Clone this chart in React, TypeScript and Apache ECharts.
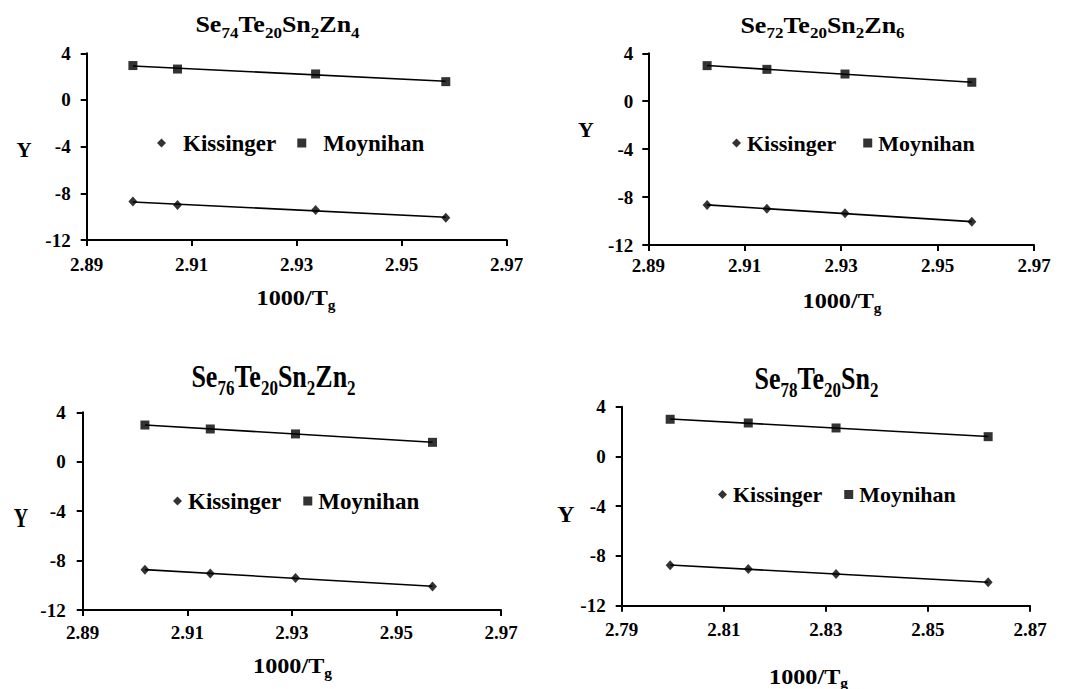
import { useEffect, useRef } from "react";
import * as echarts from "echarts";

const FONT = "Liberation Serif";

// 1000/Tg positions and Y values for each glass composition
const tgZn4 = [2.8988, 2.9073, 2.9336, 2.9584];
const kissingerZn4 = [-8.71, -9.0, -9.43, -10.09];
const moynihanZn4 = [2.95, 2.65, 2.23, 1.57];

const tgZn6 = [2.9022, 2.9146, 2.9308, 2.9571];
const kissingerZn6 = [-8.66, -8.97, -9.36, -10.06];
const moynihanZn6 = [2.97, 2.66, 2.27, 1.58];

const tgZn2 = [2.9019, 2.9144, 2.9307, 2.9569];
const kissingerZn2 = [-8.74, -9.04, -9.42, -10.09];
const moynihanZn2 = [2.97, 2.65, 2.25, 1.57];

const tgZn0 = [2.7995, 2.8148, 2.832, 2.8618];
const kissingerZn0 = [-8.75, -9.05, -9.45, -10.12];
const moynihanZn0 = [2.99, 2.69, 2.29, 1.59];

// axis ranges
const xStartZn = 2.89;
const xStartSn = 2.79;
const xSpan = 0.08;
const xStep = 0.02;
const yTicks = [-12, -8, -4, 0, 4];
const seriesNames = ["Kissinger", "Moynihan"];

// composition titles as [element, subscript] pairs
const titleZn4 = [["Se", "74"], ["Te", "20"], ["Sn", "2"], ["Zn", "4"]];
const titleZn6 = [["Se", "72"], ["Te", "20"], ["Sn", "2"], ["Zn", "6"]];
const titleZn2 = [["Se", "76"], ["Te", "20"], ["Sn", "2"], ["Zn", "2"]];
const titleZn0 = [["Se", "78"], ["Te", "20"], ["Sn", "2"]];

type Panel = {
  title: string[][];
  tg: number[];
  k: number[];
  m: number[];
  xStart: number;
  grid: { left: number; top: number; width: number; height: number };
  xMargin: number;
  yMargin: number;
  titlePos: { x: number; y: number; sy: number };
  yName: { x: number; y: number; size: number; sy: number };
  xName: { x: number; y: number };
  legend: { left: number; top: number; pad: number; gap: number; size: number };
};

const panels: Panel[] = [
  {
    title: titleZn4, tg: tgZn4, k: kissingerZn4, m: moynihanZn4, xStart: xStartZn,
    grid: { left: 86.7, top: 53.3, width: 420, height: 186.7 },
    xMargin: 15, yMargin: 16,
    titlePos: { x: 277.5, y: 12.7, sy: 0.87 },
    yName: { x: 24, y: 150, size: 21, sy: 1 },
    xName: { x: 296, y: 286.6 },
    legend: { left: 157, top: 131.5, pad: 12, gap: 21, size: 23 },
  },
  {
    title: titleZn6, tg: tgZn6, k: kissingerZn6, m: moynihanZn6, xStart: xStartZn,
    grid: { left: 648.3, top: 53.3, width: 385.7, height: 191.7 },
    xMargin: 11, yMargin: 15,
    titlePos: { x: 822.5, y: 13.3, sy: 0.87 },
    yName: { x: 586, y: 129.5, size: 22, sy: 1 },
    xName: { x: 842, y: 289.6 },
    legend: { left: 732, top: 132, pad: 1, gap: 27, size: 22 },
  },
  {
    title: titleZn2, tg: tgZn2, k: kissingerZn2, m: moynihanZn2, xStart: xStartZn,
    grid: { left: 82.7, top: 412.3, width: 418.3, height: 197.7 },
    xMargin: 13, yMargin: 17,
    titlePos: { x: 273.5, y: 360.5, sy: 1.2 },
    yName: { x: 21, y: 517.5, size: 20, sy: 1.35 },
    xName: { x: 292.5, y: 654.6 },
    legend: { left: 173, top: 489.5, pad: 1, gap: 22, size: 23 },
  },
  {
    title: titleZn0, tg: tgZn0, k: kissingerZn0, m: moynihanZn0, xStart: xStartSn,
    grid: { left: 621.7, top: 406.7, width: 408.3, height: 199 },
    xMargin: 14, yMargin: 16,
    titlePos: { x: 816.5, y: 362.1, sy: 1.2 },
    yName: { x: 566, y: 514, size: 24, sy: 1 },
    xName: { x: 808.5, y: 664.9 },
    legend: { left: 718, top: 483.5, pad: 1, gap: 22, size: 22 },
  },
];

// least-squares straight line through a set of points
function linearFit(xs: number[], ys: number[]) {
  const n = xs.length;
  const mx = xs.reduce((a, b) => a + b, 0) / n;
  const my = ys.reduce((a, b) => a + b, 0) / n;
  let sxy = 0;
  let sxx = 0;
  for (let i = 0; i < n; i++) {
    sxy += (xs[i] - mx) * (ys[i] - my);
    sxx += (xs[i] - mx) * (xs[i] - mx);
  }
  const slope = sxy / sxx;
  return (x: number) => my + slope * (x - mx);
}

const serifBold = (fontSize: number) => ({
  fontFamily: FONT,
  fontWeight: "bold",
  fontSize,
  color: "#000",
  fill: "#000",
});

function buildOption() {
  const grid: any[] = [];
  const xAxis: any[] = [];
  const yAxis: any[] = [];
  const legend: any[] = [];
  const series: any[] = [];
  const graphic: any[] = [];

  const axisLine = { show: true, onZero: false, lineStyle: { color: "#000", width: 2 } };
  const axisTick = { show: true, inside: false, length: 6, lineStyle: { color: "#000", width: 2 } };

  panels.forEach((p, i) => {
    grid.push({ ...p.grid, containLabel: false });
    // x values are placed in hundredths above the axis start so ticks line up with it
    const toAxis = (x: number) => (x - p.xStart) * 100;
    xAxis.push({
      type: "value",
      gridIndex: i,
      min: 0,
      max: xSpan * 100,
      interval: xStep * 100,
      axisLine,
      axisTick,
      splitLine: { show: false },
      axisLabel: {
        ...serifBold(19),
        margin: p.xMargin,
        formatter: (v: number) => (p.xStart + v / 100).toFixed(2),
      },
    });
    yAxis.push({
      type: "value",
      gridIndex: i,
      min: yTicks[0],
      max: yTicks[yTicks.length - 1],
      interval: yTicks[1] - yTicks[0],
      axisLine,
      axisTick,
      splitLine: { show: false },
      axisLabel: { ...serifBold(19), margin: p.yMargin },
    });

    const groups = [
      { name: seriesNames[0], ys: p.k, symbol: "diamond", size: [9, 10] },
      { name: seriesNames[1], ys: p.m, symbol: "rect", size: 9 },
    ];
    groups.forEach((g) => {
      const fit = linearFit(p.tg, g.ys);
      const x0 = p.tg[0];
      const x1 = p.tg[p.tg.length - 1];
      series.push({
        type: "line",
        xAxisIndex: i,
        yAxisIndex: i,
        silent: true,
        showSymbol: false,
        symbol: "none",
        lineStyle: { color: "#000", width: 1.6 },
        data: [
          [toAxis(x0), fit(x0)],
          [toAxis(x1), fit(x1)],
        ],
        z: 2,
      });
      series.push({
        type: "scatter",
        name: g.name,
        xAxisIndex: i,
        yAxisIndex: i,
        symbol: g.symbol,
        symbolSize: g.size,
        itemStyle: { color: "#000" },
        data: p.tg.map((x, j) => [toAxis(x), g.ys[j]]),
        z: 3,
      });
    });

    legend.push({
      left: p.legend.left,
      top: p.legend.top,
      padding: 0,
      orient: "horizontal",
      itemWidth: 9,
      itemHeight: 9,
      itemGap: p.legend.gap,
      selectedMode: false,
      data: [
        { name: seriesNames[0], icon: "diamond" },
        { name: seriesNames[1], icon: "rect" },
      ],
      textStyle: {
        ...serifBold(p.legend.size),
        padding: [0, 0, 0, p.legend.pad],
      },
    });

    // composition title with subscripts
    graphic.push({
      type: "text",
      x: p.titlePos.x,
      y: p.titlePos.y,
      scaleY: p.titlePos.sy,
      silent: true,
      style: {
        text: p.title.map(([el, n]) => `{b|${el}}{s|${n}}`).join(""),
        textAlign: "center",
        align: "center",
        textVerticalAlign: "top",
        verticalAlign: "top",
        fill: "#000",
        rich: {
          b: { ...serifBold(26), lineHeight: 26, verticalAlign: "top" },
          s: { ...serifBold(17), lineHeight: 17, padding: [14.6, 0, 0, 0], verticalAlign: "top" },
        },
      },
    });

    // y axis name
    graphic.push({
      type: "text",
      x: p.yName.x,
      y: p.yName.y,
      scaleY: p.yName.sy,
      silent: true,
      style: {
        text: "Y",
        ...serifBold(p.yName.size),
        textAlign: "center",
        align: "center",
        textVerticalAlign: "middle",
        verticalAlign: "middle",
      },
    });

    // x axis name 1000/Tg
    graphic.push({
      type: "text",
      x: p.xName.x,
      y: p.xName.y,
      scaleX: 1.1,
      silent: true,
      style: {
        text: "{b|1000/T}{s|g}",
        textAlign: "center",
        align: "center",
        textVerticalAlign: "top",
        verticalAlign: "top",
        fill: "#000",
        rich: {
          b: { ...serifBold(22), lineHeight: 22, verticalAlign: "top" },
          s: { ...serifBold(14), lineHeight: 14, padding: [11.7, 0, 0, 0], verticalAlign: "top" },
        },
      },
    });
  });

  return {
    animation: false,
    backgroundColor: "#ffffff",
    textStyle: { fontFamily: FONT },
    grid,
    xAxis,
    yAxis,
    legend,
    series,
    graphic,
  };
}

export default function App() {
  const ref = useRef<HTMLDivElement>(null);

  useEffect(() => {
    if (!ref.current) return;
    const chart = echarts.init(ref.current, undefined, { renderer: "svg" });
    chart.setOption(buildOption() as any);
    return () => chart.dispose();
  }, []);

  return (
    <div
      ref={ref}
      style={{ position: "fixed", left: 0, top: 0, width: 1071, height: 689, background: "#fff" }}
    />
  );
}
